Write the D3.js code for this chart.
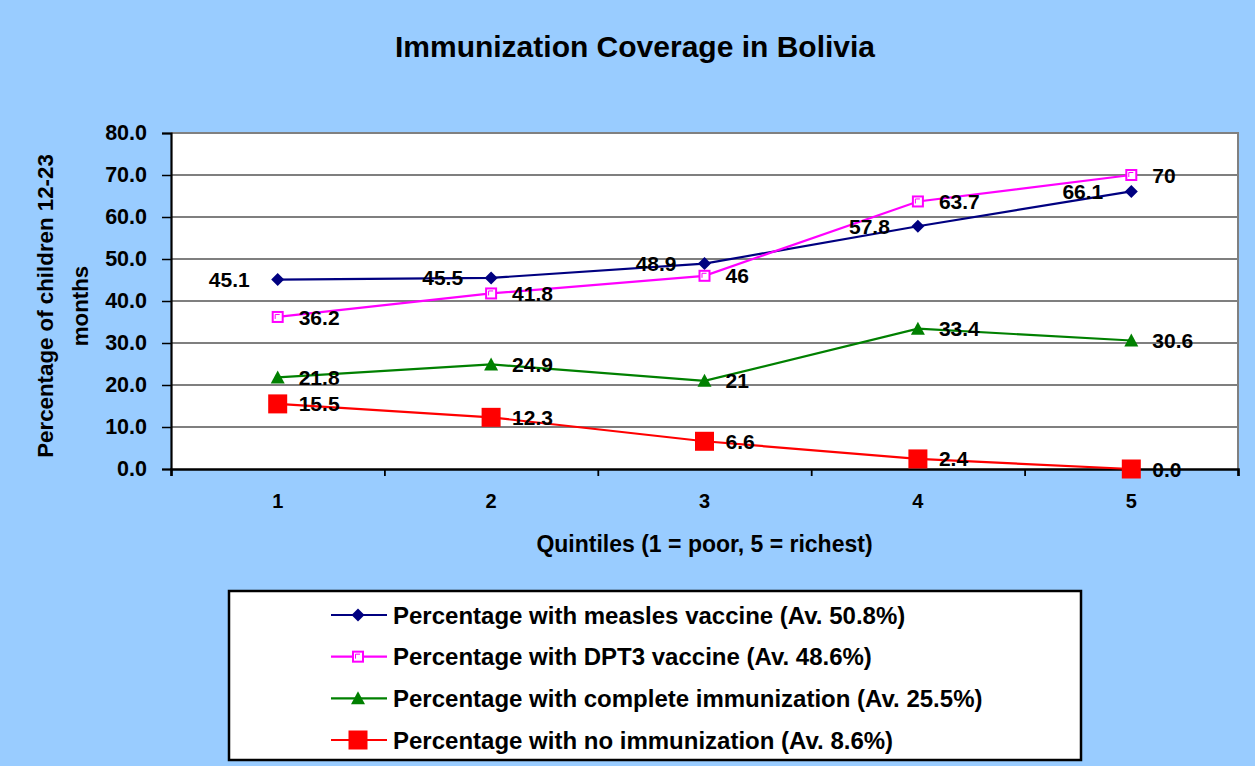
<!DOCTYPE html>
<html lang="en">
<head>
  <meta charset="UTF-8" />
  <title>Immunization Coverage in Bolivia</title>
  <script src="https://d3js.org/d3.v7.min.js"></script>
  <style>
    html, body {
      margin: 0;
      padding: 0;
      background-color: #99ccff;
    }
    svg text {
      font-family: "Liberation Sans", Arial, sans-serif;
      font-weight: bold;
      fill: #000;
    }
  </style>
</head>
<body>
  <div id="chart"></div>

  <script>
    // chart data
    const quintiles = [1, 2, 3, 4, 5];
    const measles = [45.1, 45.5, 48.9, 57.8, 66.1];
    const dpt3 = [36.2, 41.8, 46, 63.7, 70];
    const complete = [21.8, 24.9, 21, 33.4, 30.6];
    const noImmunization = [15.5, 12.3, 6.6, 2.4, 0.0];

    const measlesLabels = ["45.1", "45.5", "48.9", "57.8", "66.1"];
    const dpt3Labels = ["36.2", "41.8", "46", "63.7", "70"];
    const completeLabels = ["21.8", "24.9", "21", "33.4", "30.6"];
    const noneLabels = ["15.5", "12.3", "6.6", "2.4", "0.0"];

    const yTicks = [0, 10, 20, 30, 40, 50, 60, 70, 80];
    const legendNames = [
      "Percentage with measles vaccine (Av. 50.8%)",
      "Percentage with DPT3 vaccine (Av. 48.6%)",
      "Percentage with complete immunization (Av. 25.5%)",
      "Percentage with no immunization (Av. 8.6%)"
    ];

    const width = 1255, height = 766;
    const plot = { left: 171, right: 1238, top: 133, bottom: 469 };

    const svg = d3.select("#chart")
      .append("svg")
      .attr("width", width)
      .attr("height", height);

    svg.append("rect")
      .attr("width", width)
      .attr("height", height)
      .attr("fill", "#99ccff");

    const x = d3.scaleLinear().domain([0.5, 5.5]).range([plot.left, plot.right]);
    const y = d3.scaleLinear().domain([0, 80]).range([plot.bottom, plot.top]);

    // plot area
    svg.append("rect")
      .attr("x", plot.left)
      .attr("y", plot.top)
      .attr("width", plot.right - plot.left)
      .attr("height", plot.bottom - plot.top)
      .attr("fill", "#fff");

    // gridlines
    svg.append("g")
      .selectAll("line")
      .data(yTicks.filter(d => d > 0 && d < 80))
      .enter().append("line")
      .attr("x1", plot.left)
      .attr("x2", plot.right)
      .attr("y1", d => y(d))
      .attr("y2", d => y(d))
      .attr("stroke", "#000")
      .attr("stroke-width", 1.2);

    // grey border top and right
    svg.append("path")
      .attr("d", `M${plot.left},${plot.top}H${plot.right}V${plot.bottom}`)
      .attr("fill", "none")
      .attr("stroke", "#808080")
      .attr("stroke-width", 2);

    // y axis
    const yAxis = svg.append("g")
      .attr("transform", `translate(${plot.left},0)`)
      .call(d3.axisLeft(y).tickValues(yTicks).tickSize(9).tickPadding(15).tickFormat(d3.format(".1f")));
    yAxis.select(".domain").attr("stroke", "#000").attr("stroke-width", 2.2);
    yAxis.selectAll(".tick line").attr("stroke", "#000").attr("stroke-width", 1.5);
    yAxis.selectAll(".tick text")
      .attr("font-size", 21.5)
      .style("font-family", "'Liberation Sans', Arial, sans-serif")
      .style("font-weight", "bold")
      .attr("fill", "#000");

    // x axis
    const xAxis = svg.append("g")
      .attr("transform", `translate(0,${plot.bottom})`)
      .call(d3.axisBottom(x).tickValues([0.5, 1.5, 2.5, 3.5, 4.5, 5.5]).tickSize(7).tickFormat(""));
    xAxis.select(".domain").attr("stroke", "#000").attr("stroke-width", 2.5);
    xAxis.selectAll(".tick line").attr("stroke", "#000").attr("stroke-width", 1.8);

    svg.append("g")
      .selectAll("text")
      .data(quintiles)
      .enter().append("text")
      .attr("x", d => x(d))
      .attr("y", 508)
      .attr("text-anchor", "middle")
      .attr("font-size", 20)
      .text(d => d);

    // titles
    svg.append("text")
      .attr("x", 635)
      .attr("y", 57)
      .attr("text-anchor", "middle")
      .attr("font-size", 30)
      .text("Immunization Coverage in Bolivia");

    svg.append("text")
      .attr("x", (plot.left + plot.right) / 2)
      .attr("y", 552)
      .attr("text-anchor", "middle")
      .attr("font-size", 23)
      .text("Quintiles (1 = poor, 5 = richest)");

    const yTitle = svg.append("text")
      .attr("transform", "translate(53,306) rotate(-90)")
      .attr("text-anchor", "middle")
      .attr("font-size", 22.3);
    yTitle.append("tspan").attr("x", 0).attr("y", 0).text("Percentage of children 12-23");
    yTitle.append("tspan").attr("x", 0).attr("y", 35).text("months");

    // series
    const series = [
      { values: measles, labels: measlesLabels, color: "#000080", marker: "diamond", labelSide: "left" },
      { values: dpt3, labels: dpt3Labels, color: "#ff00ff", marker: "hollow", labelSide: "right" },
      { values: complete, labels: completeLabels, color: "#008000", marker: "triangle", labelSide: "right" },
      { values: noImmunization, labels: noneLabels, color: "#ff0000", marker: "square", labelSide: "right" }
    ];

    function drawMarker(g, type, color) {
      if (type === "diamond") {
        g.append("path").attr("d", "M0,-6.5L6.5,0L0,6.5L-6.5,0Z").attr("fill", color);
      } else if (type === "hollow") {
        g.append("rect").attr("x", -6).attr("y", -6).attr("width", 12).attr("height", 12).attr("fill", color);
        g.append("rect").attr("x", -4).attr("y", -4).attr("width", 8).attr("height", 8).attr("fill", "#fff");
        g.append("path").attr("d", "M-2.5,2V-2.5H2").attr("fill", "none").attr("stroke", color).attr("stroke-width", 1);
      } else if (type === "triangle") {
        g.append("path").attr("d", "M0,-7L7,6L-7,6Z").attr("fill", color);
      } else {
        g.append("rect").attr("x", -9.5).attr("y", -9.5).attr("width", 19).attr("height", 19).attr("fill", color);
      }
    }

    const line = d3.line()
      .x((d, i) => x(quintiles[i]))
      .y(d => y(d));

    series.forEach(s => {
      svg.append("path")
        .datum(s.values)
        .attr("d", line)
        .attr("fill", "none")
        .attr("stroke", s.color)
        .attr("stroke-width", 2.2);
    });

    series.forEach(s => {
      s.values.forEach((v, i) => {
        const g = svg.append("g").attr("transform", `translate(${x(quintiles[i])},${y(v)})`);
        drawMarker(g, s.marker, s.color);
      });
    });

    series.forEach(s => {
      svg.append("g")
        .selectAll("text")
        .data(s.values)
        .enter().append("text")
        .attr("x", (d, i) => x(quintiles[i]) + (s.labelSide === "left" ? -28 : 21))
        .attr("y", d => y(d))
        .attr("dy", "0.36em")
        .attr("text-anchor", s.labelSide === "left" ? "end" : "start")
        .attr("font-size", 21)
        .text((d, i) => s.labels[i]);
    });

    // legend
    const legend = svg.append("g");
    legend.append("rect")
      .attr("x", 229)
      .attr("y", 591)
      .attr("width", 852)
      .attr("height", 169)
      .attr("fill", "#fff")
      .attr("stroke", "#000")
      .attr("stroke-width", 2.5);

    const legendY = d3.scalePoint().domain(d3.range(legendNames.length)).range([615, 740]);

    series.forEach((s, i) => {
      const ly = legendY(i);
      legend.append("line")
        .attr("x1", 331).attr("x2", 387)
        .attr("y1", ly).attr("y2", ly)
        .attr("stroke", s.color)
        .attr("stroke-width", 2.2);
      const g = legend.append("g").attr("transform", `translate(358,${ly})`);
      drawMarker(g, s.marker, s.color);
      legend.append("text")
        .attr("x", 393)
        .attr("y", ly)
        .attr("dy", "0.36em")
        .attr("font-size", 24)
        .text(legendNames[i]);
    });
  </script>
</body>
</html>
